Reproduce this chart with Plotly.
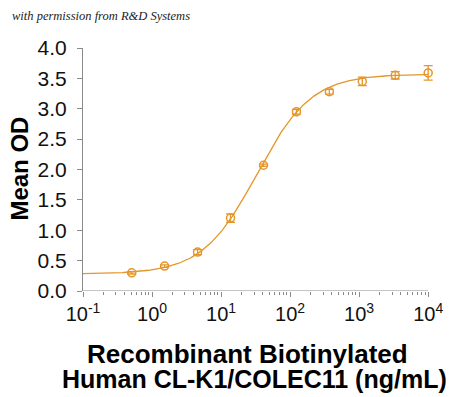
import numpy as np
import plotly.graph_objects as go

# Data
conc = [0.508, 1.52, 4.57, 13.7, 41.2, 123.5, 370, 1111, 3333, 10000]
mean_od = [0.30, 0.41, 0.64, 1.20, 2.07, 2.95, 3.28, 3.45, 3.55, 3.59]
err = [0.02, 0.02, 0.04, 0.07, 0.02, 0.04, 0.04, 0.07, 0.06, 0.12]

# 4PL fit parameters (bottom, top, EC50, Hill)
fit_bottom = 0.28
fit_top = 3.57
fit_ec50 = 33.0
fit_hill = 1.10

x_min, x_max = 0.1, 10000
x_tickvals = [0.1, 1, 10, 100, 1000, 10000]
x_ticktext = ["10<sup>-1</sup>", "10<sup>0</sup>", "10<sup>1</sup>", "10<sup>2</sup>",
              "10<sup>3</sup>", "10<sup>4</sup>"]
y_tickvals = [0, 0.5, 1.0, 1.5, 2.0, 2.5, 3.0, 3.5, 4.0]
y_ticktext = ["0.0", "0.5", "1.0", "1.5", "2.0", "2.5", "3.0", "3.5", "4.0"]

color = "#E5962A"
axis_color = "#8a8a8a"
font = "Liberation Sans, Arial, sans-serif"

xc = np.logspace(np.log10(x_min), np.log10(x_max), 300)
yc = fit_bottom + (fit_top - fit_bottom) / (1 + (fit_ec50 / xc) ** fit_hill)

minor_vals = [m * 10 ** d for d in range(-1, 4) for m in range(2, 10)]

# small padding past the last decade so the last error-bar cap is not clipped
pad = 0.07
plot_w = 345 * (5 + pad) / 5

fig = go.Figure()
fig.add_trace(go.Scatter(x=xc, y=yc, mode="lines",
                         line=dict(color=color, width=1.3), hoverinfo="skip"))
fig.add_trace(go.Scatter(
    x=conc, y=mean_od, mode="markers", cliponaxis=False,
    marker=dict(symbol="circle-open", size=8, color=color, line=dict(width=1.5)),
    error_y=dict(type="data", array=err, visible=True, color=color,
                 thickness=1.3, width=4.5),
))

fig.add_shape(type="line", xref="x", yref="y", x0=x_min, x1=x_max, y0=0, y1=0,
              line=dict(color=axis_color, width=1), layer="above")

fig.update_layout(
    width=450, height=397,
    margin=dict(l=83, r=450 - 83 - plot_w, t=48, b=106),
    paper_bgcolor="white", plot_bgcolor="white",
    showlegend=False,
    font=dict(family=font, color="black"),
    xaxis=dict(
        type="log", range=[-1, 4 + pad], tickvals=x_tickvals, ticktext=x_ticktext,
        showgrid=False, zeroline=False, showline=False,
        ticks="outside", ticklen=5, tickcolor=axis_color,
        tickfont=dict(size=20, family=font, color="#111"), automargin=False,
        minor=dict(tickvals=minor_vals, ticks="outside", ticklen=3,
                   tickcolor=axis_color, showgrid=False),
    ),
    yaxis=dict(
        range=[0, 4], tickvals=y_tickvals, ticktext=y_ticktext,
        showgrid=False, zeroline=False, showline=True, linecolor=axis_color,
        linewidth=1, ticks="outside", ticklen=5, tickcolor=axis_color,
        tickfont=dict(size=21, family=font, color="#111"), automargin=False,
        ticklabelstandoff=6,
    ),
    annotations=[
        dict(text="with permission from R&D Systems", xref="paper", yref="paper",
             x=-0.2087, y=1.1317, xanchor="left", yanchor="middle", showarrow=False,
             font=dict(family="Liberation Serif, serif", size=12.5, color="#222",
                       style="italic")),
        dict(text="<b>Mean OD</b>", xref="paper", yref="paper", x=-0.184, y=0.502,
             xanchor="center", yanchor="middle", textangle=-90, showarrow=False,
             font=dict(family=font, size=24, color="black")),
        dict(text="<b>Recombinant Biotinylated</b>",
             xref="paper", yref="paper", x=0.471, y=-0.259, xanchor="center",
             yanchor="middle", showarrow=False,
             font=dict(family=font, size=26, color="black")),
        dict(text="<b>Human CL-K1/COLEC11 (ng/mL)</b>",
             xref="paper", yref="paper", x=0.489, y=-0.364, xanchor="center",
             yanchor="middle", showarrow=False,
             font=dict(family=font, size=25, color="black")),
    ],
)

fig.write_html(
    "out.html",
    config={"displayModeBar": False},
    post_script="document.body.style.margin='0px';document.body.style.overflow='hidden';",
)
